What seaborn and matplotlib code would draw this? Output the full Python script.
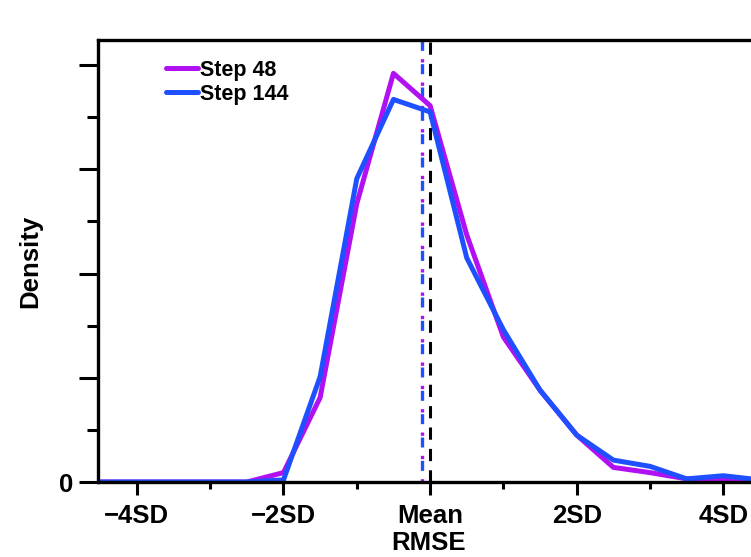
import numpy as np
import pandas as pd
import matplotlib
matplotlib.use("Agg")
import matplotlib.pyplot as plt
import seaborn as sns
from matplotlib.ticker import MultipleLocator, FuncFormatter

# Data (x in units of SD from mean RMSE)
x_sd = [-4.5, -4.0, -3.5, -3.0, -2.5, -2.0, -1.5, -1.0, -0.5, 0.0, 0.5, 1.0, 1.5, 2.0, 2.5, 3.0, 3.5, 4.0, 4.5]
step48 = [0.0, 0.0, 0.0, 0.0, 0.0, 0.009, 0.081, 0.267, 0.392, 0.361, 0.237, 0.139, 0.088, 0.045, 0.014, 0.009, 0.003, 0.002, 0.002]
step144 = [0.0, 0.0, 0.0, 0.0, 0.0, 0.002, 0.101, 0.291, 0.367, 0.355, 0.215, 0.146, 0.088, 0.045, 0.021, 0.015, 0.003, 0.006, 0.002]
series_names = ["Step 48", "Step 144"]
mean_step48 = -0.11
mean_step144 = -0.11
xtick_pos = [-4, -2, 0, 2, 4]
xtick_labels = ["\u22124SD", "\u22122SD", "Mean", "2SD", "4SD"]

df = pd.DataFrame({
    "x": x_sd * 2,
    "density": step48 + step144,
    "series": [series_names[0]] * len(x_sd) + [series_names[1]] * len(x_sd),
})

sns.set_style("white")
plt.rcParams["font.family"] = ["Liberation Sans", "DejaVu Sans"]
plt.rcParams["font.weight"] = "bold"
plt.rcParams["text.color"] = "black"
plt.rcParams["axes.labelcolor"] = "black"
plt.rcParams["xtick.color"] = "black"
plt.rcParams["ytick.color"] = "black"

c48 = "#B010F2"
c144 = "#1F50FF"

fig = plt.figure(figsize=(7.51, 5.57), dpi=100)
ax = fig.add_axes([98/751, 75/557, 662/751, 442/557])

sns.lineplot(data=df, x="x", y="density", hue="series", palette=[c48, c144],
             linewidth=3.6, ax=ax, legend=True)

ax.axvline(0, color="black", linestyle=(0, (4, 3)), linewidth=2.2, zorder=1)
ax.axvline(mean_step48, color=c48, linestyle=(0, (1, 6)), linewidth=2.4, zorder=1)
ax.axvline(mean_step144, color=c144, linestyle=(3.5, (3, 4)), linewidth=2.4, zorder=1)

ax.set_xlim(-4.53, 4.5)
ax.set_ylim(0, 0.424)
ax.set_xticks(xtick_pos)
ax.set_xticklabels(xtick_labels)
ax.xaxis.set_minor_locator(MultipleLocator(1))
ax.yaxis.set_major_locator(MultipleLocator(0.1))
ax.yaxis.set_minor_locator(MultipleLocator(0.05))
ax.yaxis.set_major_formatter(FuncFormatter(lambda v, p: "0" if abs(v) < 1e-9 else ""))

ax.tick_params(axis="x", which="major", direction="out", bottom=True, length=9, width=2.2,
               labelsize=18.5, pad=7, colors="black")
ax.tick_params(axis="x", which="minor", direction="out", bottom=True, length=5, width=2.2)
ax.tick_params(axis="y", which="major", direction="out", left=True, length=14, width=2.2,
               labelsize=18.5, pad=4, colors="black")
ax.tick_params(axis="y", which="minor", direction="out", left=True, length=8, width=2.2)
for lab in ax.get_xticklabels() + ax.get_yticklabels():
    lab.set_fontweight("bold")

for s in ax.spines.values():
    s.set_linewidth(2.4)
    s.set_color("black")

ax.set_xlabel("RMSE", fontsize=18.5, fontweight="bold", labelpad=2)
ax.set_ylabel("Density", fontsize=18.5, fontweight="bold", labelpad=12)

leg = ax.legend(loc="upper left", bbox_to_anchor=(0.09, 0.975), frameon=False,
                fontsize=15.5, handlelength=1.5, handletextpad=0.08, labelspacing=0.15,
                borderaxespad=0)
for t in leg.get_texts():
    t.set_fontweight("bold")
    t.set_color("black")
for h in leg.get_lines():
    h.set_linewidth(3.6)

fig.savefig("out.png", dpi=100)
